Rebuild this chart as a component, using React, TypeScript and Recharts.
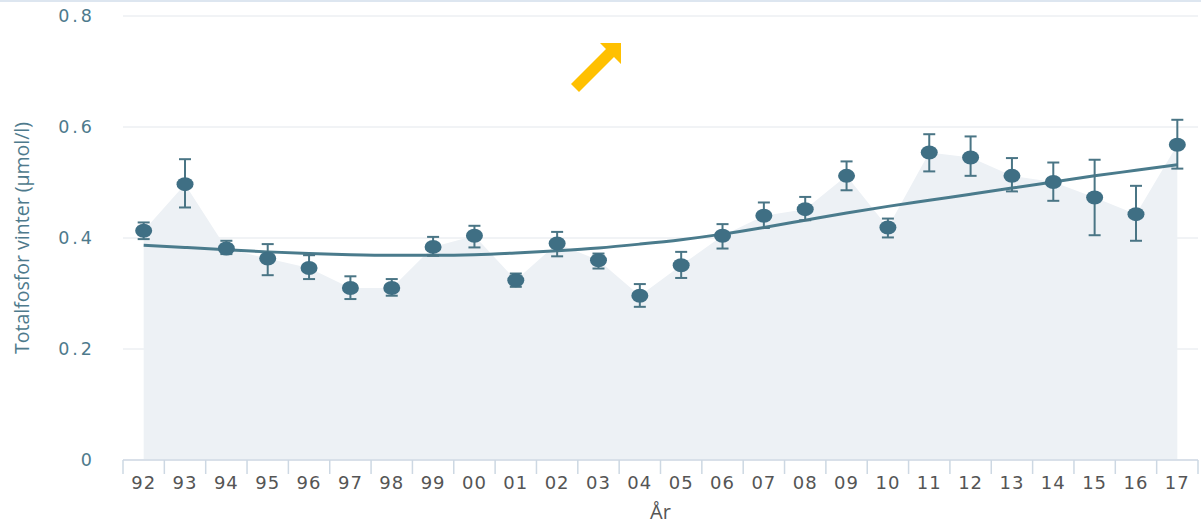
import React from 'react';
import {
  ComposedChart, Area, Line, XAxis, YAxis, CartesianGrid, ErrorBar, Label,
} from 'recharts';

const years = ['92', '93', '94', '95', '96', '97', '98', '99', '00', '01', '02', '03', '04', '05', '06', '07', '08', '09', '10', '11', '12', '13', '14', '15', '16', '17'];
const values = [0.413, 0.497, 0.381, 0.363, 0.346, 0.310, 0.310, 0.384, 0.404, 0.324, 0.390, 0.360, 0.296, 0.351, 0.404, 0.440, 0.452, 0.512, 0.419, 0.554, 0.545, 0.512, 0.501, 0.473, 0.443, 0.568];
const lows = [0.398, 0.455, 0.371, 0.333, 0.326, 0.290, 0.296, 0.368, 0.383, 0.312, 0.367, 0.345, 0.276, 0.328, 0.381, 0.418, 0.432, 0.486, 0.401, 0.520, 0.512, 0.484, 0.467, 0.405, 0.395, 0.525];
const highs = [0.428, 0.542, 0.395, 0.389, 0.369, 0.331, 0.326, 0.402, 0.422, 0.336, 0.411, 0.372, 0.317, 0.375, 0.425, 0.464, 0.474, 0.538, 0.435, 0.587, 0.583, 0.544, 0.536, 0.541, 0.494, 0.613];
const trend = [0.387, 0.383, 0.379, 0.375, 0.372, 0.370, 0.369, 0.369, 0.370, 0.373, 0.377, 0.382, 0.389, 0.397, 0.407, 0.419, 0.432, 0.445, 0.457, 0.468, 0.479, 0.490, 0.501, 0.512, 0.522, 0.532];
const yTicks = [0, 0.2, 0.4, 0.6, 0.8];

const data = years.map((year, i) => ({
  year,
  value: values[i],
  err: [values[i] - lows[i], highs[i] - values[i]],
  trend: trend[i],
}));

const XTick = (props: any) => {
  const { x, y, payload } = props;
  const half = payload.offset ?? 0;
  const isLast = payload.value === years[years.length - 1];
  return (
    <g>
      <line x1={x - half} x2={x - half} y1={y} y2={y + 14} stroke="#cdd8e3" strokeWidth={1.5} />
      {isLast && <line x1={x + half} x2={x + half} y1={y} y2={y + 14} stroke="#cdd8e3" strokeWidth={1.5} />}
      <text x={x} y={y + 29} textAnchor="middle" fill="#555" fontSize={18} letterSpacing={1}
        fontFamily="DejaVu Sans">{payload.value}</text>
    </g>
  );
};

const Dot = (props: any) => {
  const { cx, cy, index } = props;
  return <ellipse key={index} cx={cx} cy={cy} rx={8.5} ry={7} fill="#3f6f84" />;
};

export default function App() {
  return (
    <div style={{ position: 'absolute', left: 0, top: 0, width: 1201, height: 525, background: '#fff' }}>
      <div style={{ position: 'absolute', left: 0, top: 0, width: 1201, height: 2, background: '#dde6f0' }} />
      <ComposedChart width={1201} height={525} data={data} margin={{ top: 16, right: 3, left: 0, bottom: 0 }}>
        <CartesianGrid vertical={false} stroke="#e3e7ec" />
        <XAxis dataKey="year" scale="band" height={65} tickSize={0} tickMargin={0} tickLine={false}
          axisLine={{ stroke: '#d0dae5', strokeWidth: 1.5 }} tick={<XTick />} interval={0}>
          <Label value="År" position="insideBottom" offset={6} fill="#555" fontSize={20}
            fontFamily="Open Sans" />
        </XAxis>
        <YAxis domain={[0, 0.8]} ticks={yTicks} width={123} axisLine={false} tickLine={false}
          tickSize={0} tickMargin={28}
          tick={{ fill: '#4e7a8c', fontSize: 17.5, letterSpacing: 3, fontFamily: 'DejaVu Sans' }}>
          <Label value="Totalfosfor vinter (µmol/l)" angle={-90} position="insideLeft" offset={22}
            fill="#4e7a8c" fontSize={19.5} fontFamily="Open Sans" style={{ textAnchor: 'middle' }} />
        </YAxis>
        <Area type="linear" dataKey="value" fill="#edf1f5" fillOpacity={1} stroke="none"
          isAnimationActive={false} activeDot={false} />
        <Line type="monotone" dataKey="trend" stroke="#4a7b8c" strokeWidth={3} dot={false}
          activeDot={false} isAnimationActive={false} />
        <Line dataKey="value" stroke="none" strokeWidth={0} dot={<Dot />} activeDot={false}
          isAnimationActive={false}>
          <ErrorBar dataKey="err" direction="y" width={6} stroke="#4a7585" strokeWidth={2} />
        </Line>
      </ComposedChart>
      <svg width={1201} height={525} style={{ position: 'absolute', left: 0, top: 0, pointerEvents: 'none' }}>
        <polygon points="571,84 579,92 614,57 621,64 621,43 600,43 606,49" fill="#ffc000" />
      </svg>
    </div>
  );
}
